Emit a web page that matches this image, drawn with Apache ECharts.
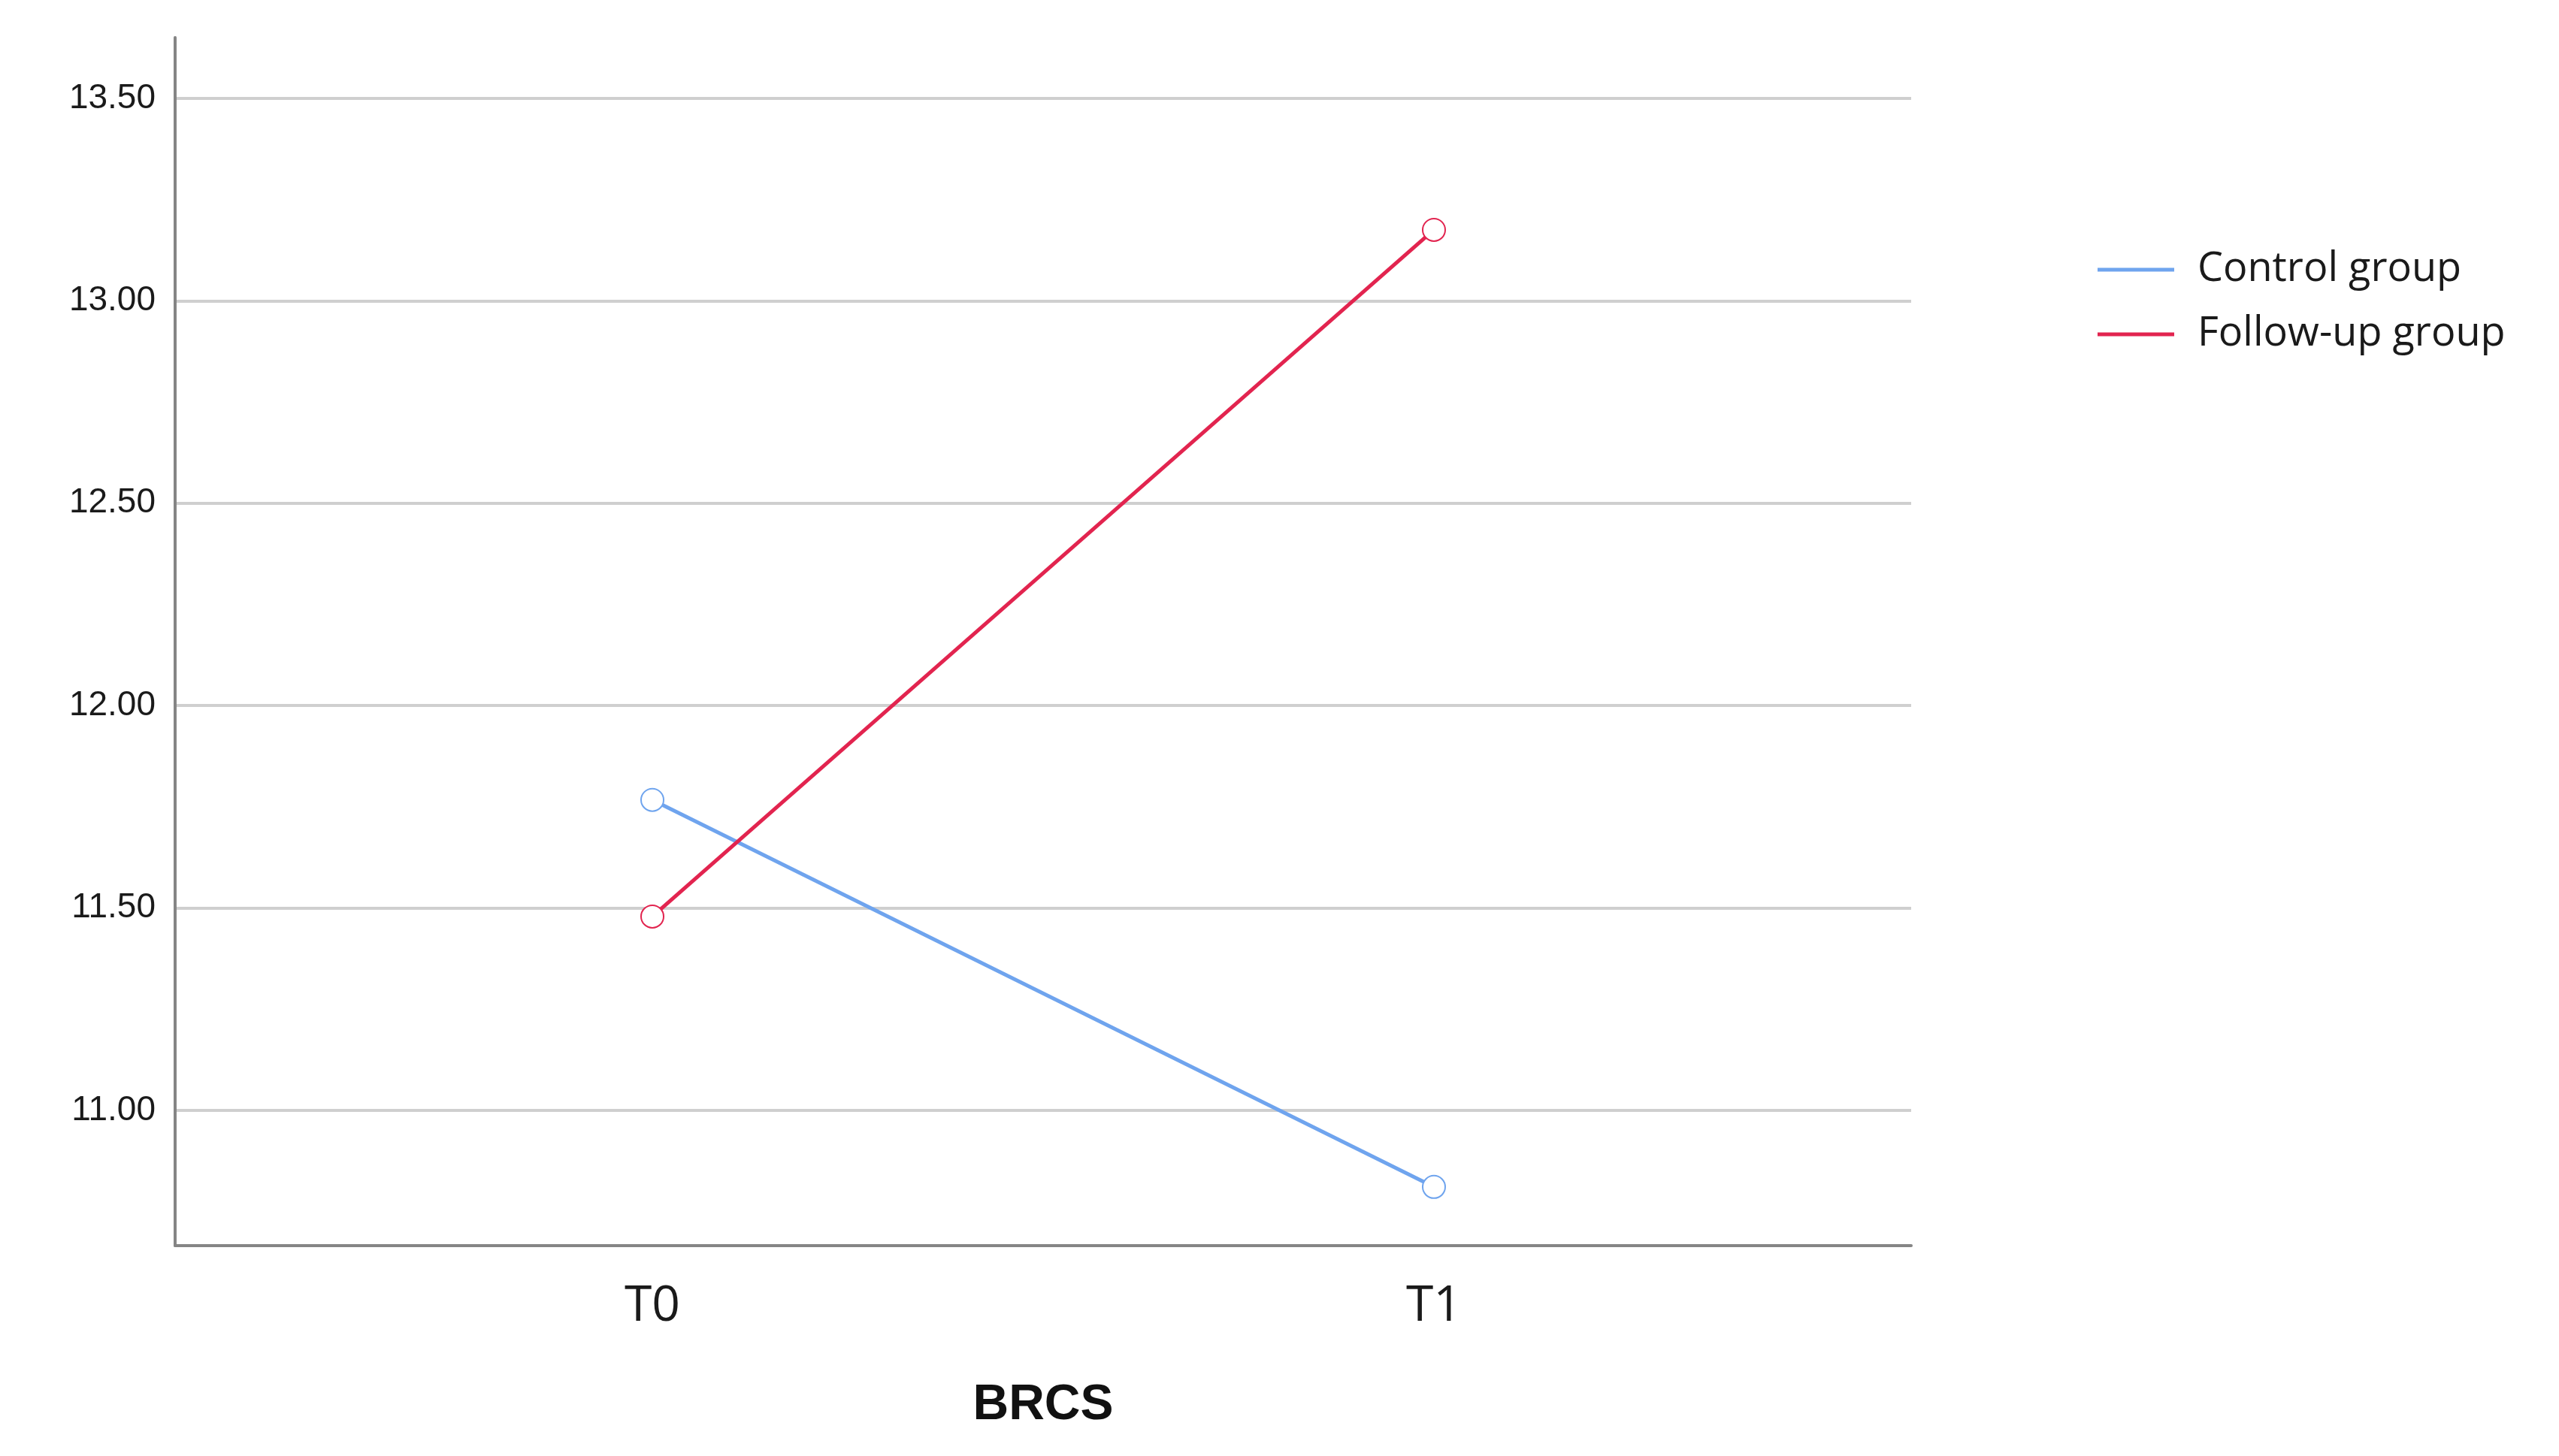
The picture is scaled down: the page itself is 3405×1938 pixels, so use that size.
<!DOCTYPE html>
<html>
<head>
<meta charset="utf-8">
<script src="https://cdn.jsdelivr.net/npm/echarts@6/dist/echarts.min.js"></script>
<style>html,body{margin:0;padding:0;background:#fff;}#c{width:3405px;height:1938px;}</style>
</head>
<body>
<div id="c"></div>
<script>
const categories = ['T0', 'T1'];
const seriesNames = ['Control group', 'Follow-up group'];
const controlValues = [11.767, 10.811];
const followUpValues = [11.479, 13.175];
const yTickValues = [11.0, 11.5, 12.0, 12.5, 13.0, 13.5];
const xAxisTitle = 'BRCS';

const chart = echarts.init(document.getElementById('c'), null, {renderer: 'canvas'});
const toPairs = vals => vals.map((v, i) => [i, v]);
const blue = '#6fa4ee';
const red = '#e2244f';

chart.setOption({
  backgroundColor: '#ffffff',
  animation: false,
  grid: {left: 233, right: 862, top: 50, bottom: 280, containLabel: false},
  legend: {
    data: seriesNames,
    orient: 'vertical',
    left: 2786,
    top: 326,
    icon: 'rect',
    itemWidth: 102,
    itemHeight: 5,
    itemGap: 30,
    textStyle: {fontFamily: 'Open Sans', fontSize: 54, color: '#1a1a1a', lineHeight: 56, padding: [0, 0, 0, 26]}
  },
  xAxis: {
    type: 'value',
    min: -0.6106,
    max: 1.6106,
    name: xAxisTitle,
    nameLocation: 'middle',
    nameGap: 180,
    nameTextStyle: {fontFamily: 'Liberation Sans', fontWeight: 'bold', fontSize: 66, color: '#111'},
    axisLine: {onZero: false, lineStyle: {color: '#858585', width: 4}},
    axisTick: {show: false},
    splitLine: {show: false},
    axisLabel: {
      customValues: categories.map((c, i) => i),
      formatter: v => categories[Math.round(v)] || '',
      fontFamily: 'Open Sans',
      fontSize: 66,
      color: '#1a1a1a',
      margin: 48
    }
  },
  yAxis: {
    type: 'value',
    min: 10.666,
    max: 13.65,
    minInterval: 0.5,
    maxInterval: 0.5,
    axisLine: {show: true, onZero: false, lineStyle: {color: '#858585', width: 4}},
    axisTick: {show: false},
    splitLine: {show: true, showMinLine: false, showMaxLine: false, lineStyle: {color: '#cfcfcf', width: 4}},
    axisLabel: {
      customValues: yTickValues,
      formatter: v => v.toFixed(2),
      fontFamily: 'Liberation Sans',
      fontSize: 46,
      color: '#1a1a1a',
      margin: 26,
      padding: [14, 0, 0, 0]
    }
  },
  series: [
    {
      name: seriesNames[0],
      type: 'line',
      data: toPairs(controlValues),
      symbol: 'emptyCircle',
      symbolSize: 30,
      lineStyle: {color: blue, width: 5},
      itemStyle: {color: blue, borderWidth: 5}
    },
    {
      name: seriesNames[1],
      type: 'line',
      data: toPairs(followUpValues),
      symbol: 'emptyCircle',
      symbolSize: 30,
      lineStyle: {color: red, width: 5},
      itemStyle: {color: red, borderWidth: 5}
    }
  ]
});
</script>
</body>
</html>
